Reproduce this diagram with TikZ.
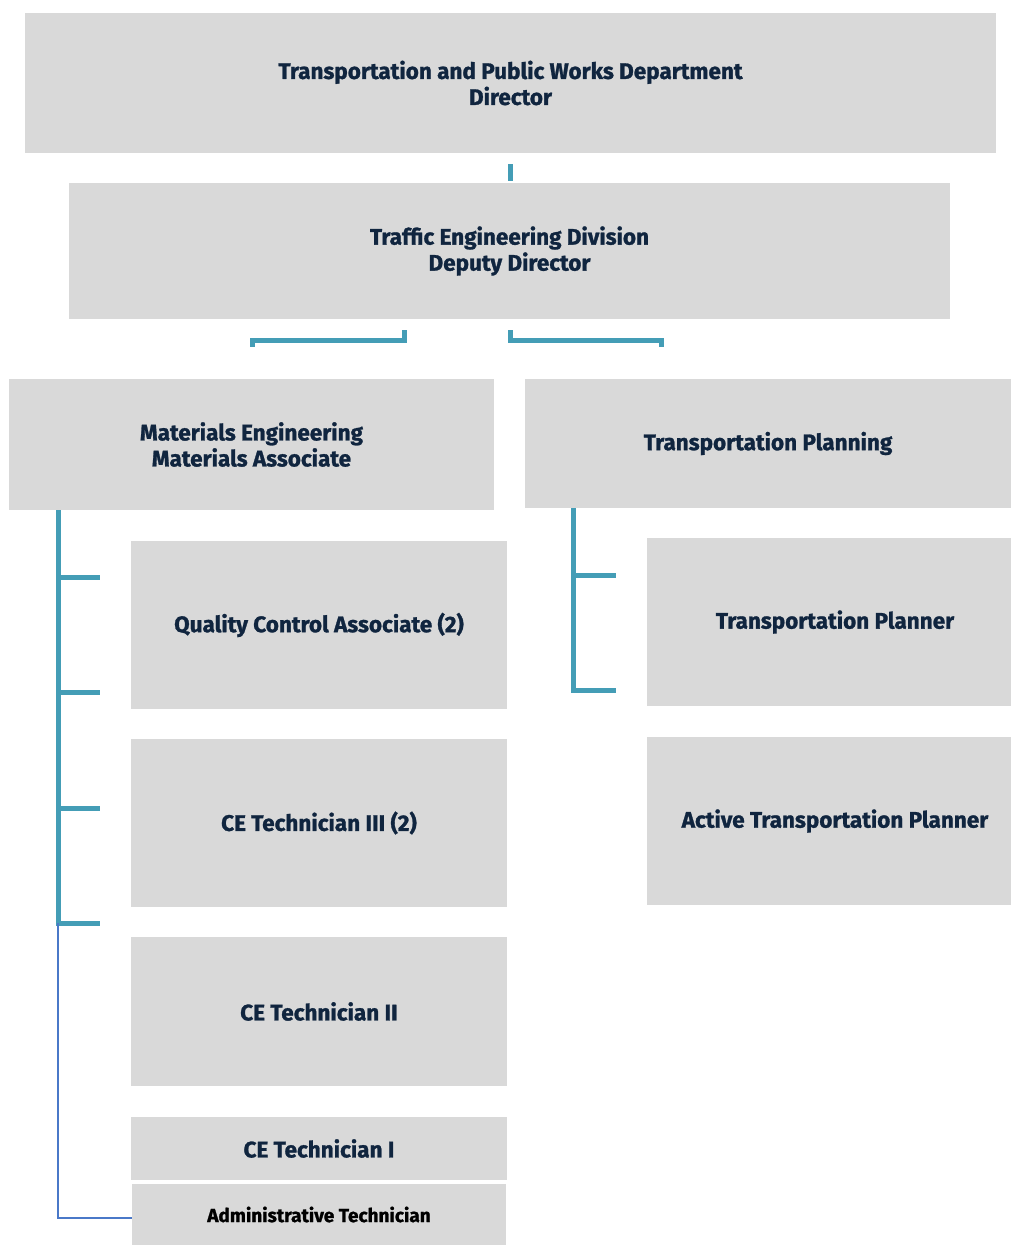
\documentclass[tikz,border=0pt]{standalone}
\usepackage{fontspec}
\setmainfont{Fira Sans}[BoldFeatures={FakeBold=1.2}]
\usetikzlibrary{calc}
\definecolor{boxgray}{HTML}{D9D9D9}
\definecolor{navy}{HTML}{10253F}
\definecolor{tealline}{HTML}{449DB6}
\definecolor{blueline}{HTML}{4A78C8}
\begin{document}
\begin{tikzpicture}[x=1pt,y=-1pt,
  box/.style={fill=boxgray,inner sep=0pt,text=navy,align=center,
    font=\fontsize{22.5}{26}\selectfont\bfseries},
  link/.style={draw=tealline,line width=5pt},
  thinlink/.style={draw=blueline,line width=2.2pt}]
\useasboundingbox (0,0) rectangle (1011,1245);
% boxes: centre, width, height
\node[box,minimum width=971pt,minimum height=140pt] (dept) at (510.5,83) {Transportation and Public Works Department\\Director};
\node[box,minimum width=881pt,minimum height=136pt] (div) at (509.5,251) {Traffic Engineering Division\\Deputy Director};
\node[box,minimum width=485pt,minimum height=131pt] (mat) at (251.5,444.5) {Materials Engineering\\Materials Associate};
\node[box,minimum width=486pt,minimum height=129pt] (plan) at (768,443.5) {Transportation Planning};
\node[box,minimum width=376pt,minimum height=168pt] (qca) at (319,625) {Quality Control Associate (2)};
\node[box,minimum width=376pt,minimum height=168pt] (ce3) at (319,823) {CE Technician III (2)};
\node[box,minimum width=376pt,minimum height=149pt] (ce2) at (319,1011.5) {CE Technician II};
\node[box,minimum width=376pt,minimum height=63pt] (ce1) at (319,1148.5) {CE Technician I};
\node[box,minimum width=374pt,minimum height=61pt,text=black,
  font=\fontsize{19}{22}\selectfont\bfseries] (adm) at (319,1214.5) {Administrative Technician};
\node[box,minimum width=364pt,minimum height=168pt] (tp) at (829,622) {\hspace*{12pt}Transportation Planner};
\node[box,minimum width=364pt,minimum height=168pt] (atp) at (829,821) {\hspace*{12pt}Active Transportation Planner};
% connector end points
\coordinate (d1) at (510,164);
\coordinate (d2) at (510,181);
\coordinate (l1) at (404,330);
\coordinate (l2) at (252,347);
\coordinate (r1) at (510,330);
\coordinate (r2) at (661,347);
\coordinate (ms) at (58,510);
\coordinate (me) at (58,923);
\coordinate (ps) at (573,508);
\coordinate (pe) at (573,690);
% top links
\draw[link] (d1) -- (d2);
\draw[link] (l1) |- (252,340) -- (l2);
\draw[link] (r1) |- (661,340) -- (r2);
% materials spine with ticks
\draw[link] (ms) -- (me);
\foreach \y in {577,692,808,923} \draw[link] (56,\y) -- (100,\y);
\draw[thinlink] (me) |- ([yshift=-3.5pt]adm.west);
% planning spine with ticks
\draw[link] (ps) -- (pe);
\foreach \y in {575,690} \draw[link] (571,\y) -- (616,\y);
\end{tikzpicture}
\end{document}
